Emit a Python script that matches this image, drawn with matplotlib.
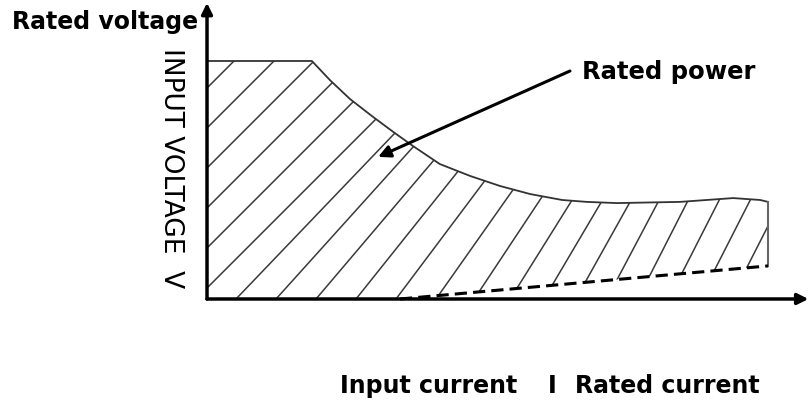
import numpy as np
import matplotlib
matplotlib.use("Agg")
import matplotlib.pyplot as plt
from matplotlib.patches import Polygon
from matplotlib.transforms import IdentityTransform

# ---- data (current in % of rated current, voltage in % of rated voltage) ----
boundary_current = [0, 18.7, 21.9, 25.5, 29.6, 33.2, 36.7, 41.5, 46.9, 52.2,
                    57.6, 63.3, 67.7, 73.1, 84.3, 93.8, 98.6, 100]
boundary_voltage = [100, 100, 92.0, 84.0, 76.5, 70.2, 64.3, 56.7, 51.7, 47.5,
                    44.1, 41.6, 40.8, 40.3, 40.8, 42.4, 41.6, 40.8]
min_current = [34.4, 100]      # dashed lower limit
min_voltage = [0, 13.9]

label_y_top = "Rated voltage"
label_y_axis = "INPUT VOLTAGE  V"
label_x_left = "Input current"
label_x_mid = "I"
label_x_right = "Rated current"
label_power = "Rated power"

# ---- figure ----
W, H = 812, 402
fig = plt.figure(figsize=(W / 100, H / 100), dpi=100)
ax = fig.add_axes([0, 0, 1, 1])
ax.set_xlim(-36.90, 107.84)
ax.set_ylim(-42.86, 126.05)
ax.axis("off")

bold = dict(family="DejaVu Sans", weight="bold", color="black")

# filled region polygon (upper boundary + lower limit)
lower_x = [0] + min_current
lower_y = [0] + min_voltage
poly_pts = list(zip(boundary_current, boundary_voltage)) + list(zip(lower_x[::-1], lower_y[::-1]))
patch = Polygon(poly_pts, closed=True, facecolor="white", edgecolor="none", zorder=1)
ax.add_patch(patch)

# hatch lines (style), computed in display pixels and clipped to the region
fig.canvas.draw()
ox, oy = ax.transData.transform((0, 0))
xr = -211.0
while xr < 640:
    t = np.clip(xr / 420.0, 0, 1)
    ang = np.radians(45 + 18 * t)
    L = 400
    x0 = ox + xr
    xs = [x0 - L * np.cos(ang), x0 + L * np.cos(ang)]
    ys = [oy - L * np.sin(ang), oy + L * np.sin(ang)]
    ln, = ax.plot(xs, ys, transform=IdentityTransform(), color="#3a3a3a",
                  lw=1.1, zorder=2, solid_capstyle="butt")
    ln.set_clip_path(patch)
    xr += 40 - 9 * np.clip((xr - 200) / 150.0, 0, 1)

# boundary curve and right edge
ax.plot(boundary_current, boundary_voltage, color="#333333", lw=1.3, zorder=3)
ax.plot([boundary_current[-1], min_current[-1]], [boundary_voltage[-1], min_voltage[-1]],
        color="#666666", lw=1.5, zorder=3)
# dashed minimum line
ax.plot(min_current, min_voltage, color="black", lw=2.2, ls=(0, (4, 2)), zorder=3)

# axes with arrows
ax.annotate("", xy=(0, 124.4), xytext=(0, 0),
            arrowprops=dict(arrowstyle="-|>", lw=2.5, color="black",
                            mutation_scale=16, shrinkA=0, shrinkB=0), zorder=4)
ax.annotate("", xy=(107.2, 0), xytext=(0, 0),
            arrowprops=dict(arrowstyle="-|>", lw=2.5, color="black",
                            mutation_scale=16, shrinkA=0, shrinkB=0), zorder=4)

# annotation arrow to region
ax.annotate("", xy=(30.5, 59.7), xytext=(64.7, 95.8),
            arrowprops=dict(arrowstyle="-|>", lw=2.2, color="black",
                            mutation_scale=18, shrinkA=0, shrinkB=0), zorder=5)

# texts
ax.text(-34.8, 113.9, label_y_top, fontsize=17, va="baseline", ha="left", **bold)
ax.text(66.8, 92.9, label_power, fontsize=17.5, va="baseline", ha="left", **bold)
ax.text(23.7, -39.1, label_x_left, fontsize=17, va="baseline", ha="left", **bold)
ax.text(60.8, -39.1, label_x_mid, fontsize=17, va="baseline", ha="left", **bold)
ax.text(65.6, -39.1, label_x_right, fontsize=17, va="baseline", ha="left", **bold)
ax.text(-6.4, 105.9, label_y_axis, fontsize=19, rotation=270, ha="center", va="top",
        family="DejaVu Sans", color="black")

fig.savefig("out.png", dpi=100)
